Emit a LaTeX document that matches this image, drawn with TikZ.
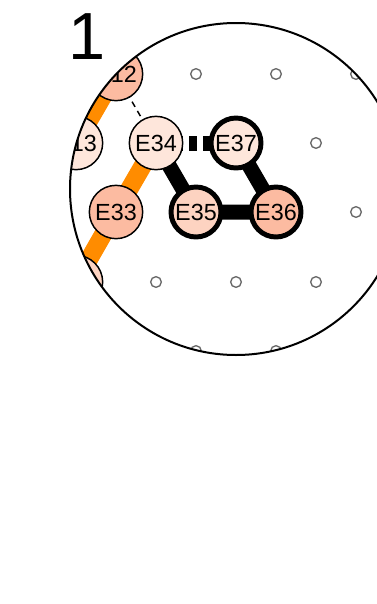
\documentclass[tikz,border=0pt]{standalone}
\usepackage{fontspec}
\setmainfont{Liberation Sans}
\definecolor{elow}{HTML}{FEE6DB}
\definecolor{emid}{HTML}{FDD3C1}
\definecolor{ehigh}{HTML}{FCBBA1}
\definecolor{trace}{HTML}{FF8C00}
\begin{document}
\begin{tikzpicture}[x=0.75pt, y=-0.75pt,
    elec/.style={circle, draw, line width=1.1pt, minimum size=40pt, inner sep=0pt, font=\fontsize{17.5}{19}\selectfont},
    active/.style={elec, line width=3.7pt, minimum size=37.5pt},
    site/.style={circle, draw=black!60, line width=1pt, fill=white, minimum size=8pt, inner sep=0pt},
    path/.style={trace, line width=13.5pt},
    link/.style={black, line width=11.25pt}]
  \useasboundingbox (0,0) rectangle (377,604);

  % Panel label
  \node[inner sep=0pt] (lbl) at (87,37) {\fontsize{50}{50}\selectfont 1};

  \begin{scope}
    \clip (236,189) circle [radius=124.5pt];

    % Empty sites
    \foreach \x/\y [count=\i] in {196/74, 276/74, 356/74, 316/143, 356/212,
                                  156/282, 236/282, 316/282, 196/351, 276/351}
      \node[site] (s\i) at (\x,\y) {};

    % Electrode positions
    \coordinate (W) at (36,212);
    \coordinate (E12) at (116,74);
    \coordinate (E13) at (76,143);
    \coordinate (E34) at (156,143);
    \coordinate (E37) at (236,143);
    \coordinate (E33) at (116,212);
    \coordinate (E35) at (196,212);
    \coordinate (E36) at (276,212);
    \coordinate (E32) at (76,282);

    % Connections
    \draw[path] (E12) -- (E13) -- (W);
    \draw[path] (E34) -- (E33) -- (E32);
    \draw[black, line width=1.1pt, dash pattern=on 4.5pt off 3.5pt] (E12) -- (E34);
    \draw[link, dash pattern=on 6pt off 4.5pt, dash phase=-4pt] (E34) -- (E37);
    \draw[link] (E34) -- (E35) -- (E36) -- (E37);

    % Electrodes
    \node[elec, fill=ehigh]   (n12) at (E12) {E12};
    \node[elec, fill=elow]    (n13) at (E13) {E13};
    \node[elec, fill=elow]    (n34) at (E34) {E34};
    \node[active, fill=elow]  (n37) at (E37) {E37};
    \node[elec, fill=ehigh]   (n33) at (E33) {E33};
    \node[active, fill=emid]  (n35) at (E35) {E35};
    \node[active, fill=ehigh] (n36) at (E36) {E36};
    \node[elec, fill=emid]    (n32) at (E32) {};
  \end{scope}

  % Magnifier outline
  \draw[line width=1.5pt] (236,189) circle [radius=124.5pt];
\end{tikzpicture}
\end{document}
